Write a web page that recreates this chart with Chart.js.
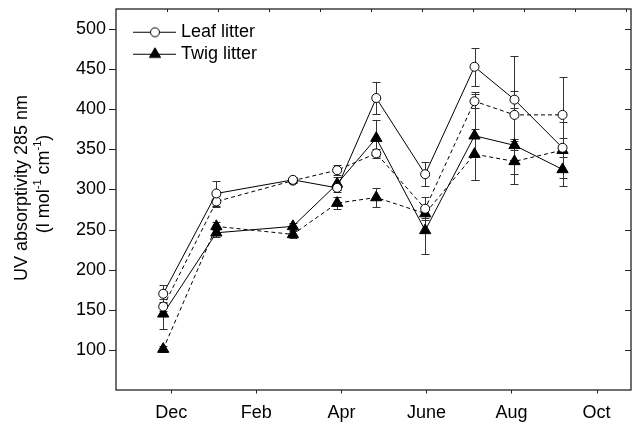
<!DOCTYPE html>
<html>
<head>
<meta charset="utf-8">
<script src="https://cdn.jsdelivr.net/npm/chart.js@4"></script>
<style>
  html, body { margin: 0; padding: 0; background: #fff; }
  canvas { display: block; }
</style>
</head>
<body>
<canvas id="uv-chart" width="632" height="427"></canvas>
<script>
// Sampling dates, in months counted from 1 Dec
const sampleMonths = [0.31, 1.56, 3.36, 4.40, 5.32, 6.47, 7.63, 8.57, 9.70];

// Month labels and their place on the month axis
const monthLabels = ['Dec', 'Feb', 'Apr', 'June', 'Aug', 'Oct'];
const monthLabelPos = [0.5, 2.5, 4.5, 6.5, 8.5, 10.5];

// y tick labels
const yTickLabels = [100, 150, 200, 250, 300, 350, 400, 450, 500];

// UV absorptivity (mean and error), two runs per litter type
const leafSolid = [170, 295, 312, 302, 414, 319, 453, 412, 352];
const leafSolidErr = [11, 15, 3, 5, 20, 15, 24, 11, 12];
const leafDashed = [154, 285, 311, 324, 345, 276, 410, 393, 393];
const leafDashedErr = [6, 7, 3, 6, 6, 14, 9, 74, 47];
const twigSolid = [145, 246, 254, 307, 364, 249, 367, 355, 325];
const twigSolidErr = [19, 5, 4, 8, 22, 29, 55, 6, 21];
const twigDashed = [101, 254, 244, 283, 290, 270, 344, 335, 349];
const twigDashedErr = [4, 5, 4, 7, 12, 6, 32, 28, 35];

const FONT = '"Liberation Sans", Arial, Helvetica, sans-serif';
Chart.defaults.font.family = FONT;
Chart.defaults.font.size = 18;
Chart.defaults.color = '#000';

const toPoints = vals => vals.map((v, i) => ({ x: sampleMonths[i], y: v }));

// Small legend picture: line with the marker on it
function legendIcon(kind) {
  const c = document.createElement('canvas');
  c.width = 60;
  c.height = 17;
  const g = c.getContext('2d');
  g.strokeStyle = '#000';
  g.lineWidth = 1;
  g.beginPath();
  g.moveTo(17, 8.5);
  g.lineTo(60, 8.5);
  g.stroke();
  g.beginPath();
  if (kind === 'circle') {
    g.fillStyle = '#fff';
    g.arc(39, 8.5, 4.5, 0, Math.PI * 2);
  } else {
    const r = 6.5;
    g.fillStyle = '#000';
    g.moveTo(39, 8.5 - r);
    g.lineTo(39 + r * Math.sin(2 * Math.PI / 3), 8.5 + r / 2);
    g.lineTo(39 - r * Math.sin(2 * Math.PI / 3), 8.5 + r / 2);
    g.closePath();
  }
  g.fill();
  g.stroke();
  return c;
}
const legendIcons = [legendIcon('circle'), null, legendIcon('triangle'), null];

const errorSets = [
  [leafSolid, leafSolidErr],
  [leafDashed, leafDashedErr],
  [twigSolid, twigSolidErr],
  [twigDashed, twigDashedErr],
];

// Error bars, axis frame, tick marks and the y title
const decorations = {
  id: 'decorations',
  beforeDatasetsDraw(chart) {
    const { ctx, scales: { x, y } } = chart;
    ctx.save();
    ctx.strokeStyle = '#333';
    ctx.lineWidth = 1;
    ctx.beginPath();
    errorSets.forEach(([vals, errs]) => {
      vals.forEach((v, i) => {
        const px = Math.round(x.getPixelForValue(sampleMonths[i])) + 0.5;
        const top = Math.round(y.getPixelForValue(v + errs[i])) + 0.5;
        const bot = Math.round(y.getPixelForValue(v - errs[i])) + 0.5;
        ctx.moveTo(px, top); ctx.lineTo(px, bot);
        ctx.moveTo(px - 4, top); ctx.lineTo(px + 4, top);
        ctx.moveTo(px - 4, bot); ctx.lineTo(px + 4, bot);
      });
    });
    ctx.stroke();
    ctx.restore();
  },
  afterDraw(chart) {
    const { ctx, chartArea: a, scales: { x, y, xTop } } = chart;
    ctx.save();
    ctx.strokeStyle = '#222';
    ctx.lineWidth = 1.3;
    ctx.strokeRect(a.left, a.top, a.right - a.left, a.bottom - a.top);

    ctx.lineWidth = 1;
    ctx.beginPath();
    x.ticks.forEach(t => {
      const px = Math.round(x.getPixelForValue(t.value)) + 0.5;
      const len = Number.isInteger(t.value) ? 7 : 3.5;
      ctx.moveTo(px, a.bottom);
      ctx.lineTo(px, a.bottom + len);
    });
    xTop.ticks.forEach(t => {
      const px = Math.round(xTop.getPixelForValue(t.value)) + 0.5;
      ctx.moveTo(px, a.top);
      ctx.lineTo(px, a.top + 3);
    });
    y.ticks.forEach(t => {
      const py = Math.round(y.getPixelForValue(t.value)) + 0.5;
      const major = t.value % 50 === 0;
      ctx.moveTo(a.left, py);
      ctx.lineTo(a.left - (major ? 7 : 4), py);
      ctx.moveTo(a.right, py);
      ctx.lineTo(a.right - (major ? 6 : 3.5), py);
    });
    ctx.stroke();

    // y axis title, two rotated lines, the second one with superscripts
    ctx.fillStyle = '#000';
    ctx.textBaseline = 'middle';
    ctx.font = '18px ' + FONT;
    ctx.textAlign = 'center';
    ctx.translate(22.5, 188);
    ctx.rotate(-Math.PI / 2);
    ctx.fillText('UV absorptivity 285 nm', 0, 0);

    ctx.setTransform(1, 0, 0, 1, 0, 0);
    ctx.translate(44, 184);
    ctx.rotate(-Math.PI / 2);
    ctx.textAlign = 'left';
    const parts = [['(l mol', false], ['-1', true], [' cm', false], ['-1', true], [')', false]];
    const fontOf = sup => (sup ? '11px ' : '18px ') + FONT;
    let total = 0;
    parts.forEach(([txt, sup]) => { ctx.font = fontOf(sup); total += ctx.measureText(txt).width; });
    let cx = -total / 2;
    parts.forEach(([txt, sup]) => {
      ctx.font = fontOf(sup);
      ctx.fillText(txt, cx, sup ? -6 : 0);
      cx += ctx.measureText(txt).width;
    });
    ctx.restore();
  }
};

const lineSet = (label, vals, dashed, marker) => ({
  label,
  data: toPoints(vals),
  borderColor: '#000',
  borderWidth: 1,
  borderDash: dashed ? [4, 3] : [],
  pointStyle: marker,
  pointRadius: marker === 'circle' ? 4.5 : 6.5,
  pointBorderWidth: 1,
  pointBorderColor: '#000',
  pointBackgroundColor: marker === 'circle' ? '#fff' : '#000',
  fill: false,
  tension: 0,
});

new Chart(document.getElementById('uv-chart'), {
  type: 'line',
  data: {
    datasets: [
      lineSet('Leaf litter', leafSolid, false, 'circle'),
      lineSet('Leaf litter (dashed)', leafDashed, true, 'circle'),
      lineSet('Twig litter', twigSolid, false, 'triangle'),
      lineSet('Twig litter (dashed)', twigDashed, true, 'triangle'),
    ],
  },
  options: {
    responsive: false,
    animation: false,
    layout: { autoPadding: false, padding: { top: 9, right: 1, left: 0, bottom: 0 } },
    scales: {
      x: {
        type: 'linear',
        position: 'bottom',
        min: -0.8,
        max: 11.31,
        grid: { display: false, drawTicks: false },
        border: { display: false },
        ticks: {
          stepSize: 0.5,
          autoSkip: false,
          maxRotation: 0,
          includeBounds: false,
          padding: 12,
          callback: v => {
            const i = monthLabelPos.indexOf(v);
            return i >= 0 ? monthLabels[i] : null;
          },
        },
        afterFit: scale => {
          scale.height = 37;
          scale.paddingLeft = 0;
          scale.paddingRight = 0;
        },
      },
      xTop: {
        type: 'linear',
        position: 'top',
        display: false,
        min: -0.994,
        max: 9.104,
        ticks: { stepSize: 1, includeBounds: false },
      },
      y: {
        type: 'linear',
        min: 50,
        max: 525,
        grid: { display: false, drawTicks: false },
        border: { display: false },
        ticks: {
          stepSize: 25,
          includeBounds: false,
          padding: 10,
          callback: v => (yTickLabels.includes(v) ? String(v) : null),
        },
        afterFit: scale => {
          scale.width = 116;
          scale.paddingTop = 0;
          scale.paddingBottom = 0;
        },
      },
    },
    plugins: {
      tooltip: { enabled: false },
      legend: {
        position: 'chartArea',
        align: 'start',
        title: { display: true, text: ' ', font: { size: 1 }, padding: { top: 0, bottom: 18 } },
        labels: {
          usePointStyle: true,
          pointStyleWidth: 52,
          padding: 4,
          color: '#000',
          font: { size: 18 },
          filter: item => item.datasetIndex === 0 || item.datasetIndex === 2,
          generateLabels: chart =>
            Chart.defaults.plugins.legend.labels.generateLabels(chart).map(item => ({
              ...item,
              pointStyle: legendIcons[item.datasetIndex] || item.pointStyle,
              lineDash: [],
            })),
        },
      },
    },
  },
  plugins: [decorations],
});
</script>
</body>
</html>
